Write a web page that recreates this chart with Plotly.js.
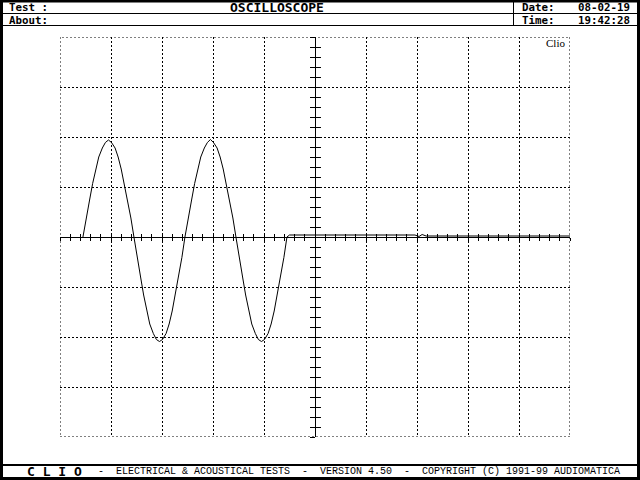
<!DOCTYPE html>
<html><head><meta charset="utf-8">
<script src="https://cdn.plot.ly/plotly-3.0.1.min.js"></script>
<style>html,body{margin:0;padding:0;background:#fff;}#chart{width:640px;height:480px;}</style>
</head><body><div id="chart"></div>
<script>
const waveX = [0.45,0.51,0.58,0.64,0.70,0.76,0.83,0.89,0.95,1.01,1.08,1.14,1.20,1.26,1.33,1.39,1.45,
  1.51,1.58,1.64,1.70,1.76,1.83,1.89,1.95,2.01,2.08,2.14,2.20,2.26,2.33,2.39,2.45,
  2.51,2.58,2.64,2.70,2.76,2.83,2.89,2.95,3.01,3.08,3.14,3.20,3.26,3.33,3.39,3.45,
  3.51,3.58,3.64,3.70,3.76,3.83,3.89,3.95,4.01,4.08,4.14,4.20,4.26,4.33,4.39,4.45,
  4.50,6.96,7.04,7.10,7.18,10.00];
const waveY = [0.00,0.38,0.74,1.07,1.36,1.60,1.78,1.89,1.94,1.89,1.78,1.60,1.36,1.07,0.74,0.38,0.00,
  -0.41,-0.80,-1.16,-1.48,-1.74,-1.93,-2.05,-2.09,-2.05,-1.93,-1.74,-1.48,-1.16,-0.80,-0.41,0.00,
  0.38,0.74,1.07,1.36,1.60,1.78,1.89,1.95,1.89,1.78,1.60,1.36,1.07,0.74,0.38,0.00,
  -0.41,-0.80,-1.16,-1.48,-1.74,-1.93,-2.05,-2.09,-2.05,-1.93,-1.74,-1.48,-1.16,-0.80,-0.41,0.00,
  0.04,0.04,0.01,0.05,0.02,0.02];

const xRange = [0, 10];
const yRange = [-4, 4];

const headerTest = 'Test :';
const headerAbout = 'About:';
const headerTitle = 'OSCILLOSCOPE';
const headerDateLabel = 'Date:';
const headerDateValue = '08-02-19';
const headerTimeLabel = 'Time:';
const headerTimeValue = '19:42:28';
const footerBrand = 'C L I O';
const footerText = '-  ELECTRICAL & ACOUSTICAL TESTS  -  VERSION 4.50  -  COPYRIGHT (C) 1991-99 AUDIOMATICA';
const cornerLabel = 'Clio';

// pixel -> paper helpers (plot area is 60..570 x 37..437)
const L = 60, T = 37, PW = 510, PH = 400;
const px = x => (x - L) / PW;
const py = y => (T + PH - y) / PH;

const monoBold = {family: 'DejaVu Sans Mono', size: 13, color: '#000', weight: 'bold'};
const monoRow = {family: 'DejaVu Sans Mono', size: 10.8, color: '#000', weight: 'bold'};
const monoThin = {family: 'Liberation Mono', size: 10, color: '#000'};

function ann(text, x, y, font, xanchor) {
  return {text: text, xref: 'paper', yref: 'paper', x: px(x), y: py(y),
    xanchor: xanchor || 'left', yanchor: 'middle', showarrow: false, font: font, borderpad: 0};
}
function hline(y, x0, x1, w) {
  return {type: 'line', xref: 'paper', yref: 'paper', x0: px(x0), x1: px(x1), y0: py(y), y1: py(y),
    line: {color: '#000', width: w}};
}
function vline(x, y0, y1, w) {
  return {type: 'line', xref: 'paper', yref: 'paper', x0: px(x), x1: px(x), y0: py(y0), y1: py(y1),
    line: {color: '#000', width: w}};
}

const gridDash = '2px,2px';
const baseAxis = {
  fixedrange: true, anchor: 'free', position: 0.5, zeroline: false,
  showticklabels: false, tickmode: 'linear', tick0: 0, dtick: 1,
  tickwidth: 1, tickcolor: '#000'
};

const layout = {
  width: 640, height: 480, autosize: false,
  margin: {l: 60, r: 70, t: 37, b: 43, pad: 0},
  paper_bgcolor: '#fff', plot_bgcolor: '#fff',
  showlegend: false, hovermode: false,
  xaxis: Object.assign({}, baseAxis, {
    range: xRange, showline: true, linecolor: '#000', linewidth: 1,
    showgrid: true, gridcolor: '#000', gridwidth: 1, griddash: gridDash,
    ticks: 'outside', ticklen: 3,
    minor: {tickmode: 'linear', tick0: 0, dtick: 0.2, ticks: 'outside', ticklen: 3, tickwidth: 1, tickcolor: '#000', showgrid: false}
  }),
  xaxis2: Object.assign({}, baseAxis, {
    range: xRange, overlaying: 'x', showline: false, showgrid: false,
    ticks: 'inside', ticklen: 3,
    minor: {tickmode: 'linear', tick0: 0, dtick: 0.2, ticks: 'inside', ticklen: 3, tickwidth: 1, tickcolor: '#000', showgrid: false}
  }),
  yaxis: Object.assign({}, baseAxis, {
    range: yRange, showline: true, linecolor: '#000', linewidth: 1,
    showgrid: true, gridcolor: '#000', gridwidth: 1, griddash: gridDash,
    ticks: 'outside', ticklen: 5,
    minor: {tickmode: 'linear', tick0: 0, dtick: 0.2, ticks: 'outside', ticklen: 5, tickwidth: 1, tickcolor: '#000', showgrid: false}
  }),
  yaxis2: Object.assign({}, baseAxis, {
    range: yRange, overlaying: 'y', showline: false, showgrid: false,
    ticks: 'inside', ticklen: 5,
    minor: {tickmode: 'linear', tick0: 0, dtick: 0.2, ticks: 'inside', ticklen: 5, tickwidth: 1, tickcolor: '#000', showgrid: false}
  }),
  shapes: [
    {type: 'rect', xref: 'x', yref: 'y', x0: xRange[0], x1: xRange[1], y0: yRange[0], y1: yRange[1],
      line: {color: '#000', width: 1, dash: gridDash}, layer: 'below'},
    {type: 'rect', xref: 'paper', yref: 'paper', x0: px(1.5), x1: px(638.5), y0: py(1), y1: py(478.5),
      line: {color: '#000', width: 3}},
    hline(13.5, 0, 640, 1),
    hline(25.5, 0, 640, 1),
    vline(513.5, 0, 26, 1),
    hline(465, 0, 640, 2)
  ],
  annotations: [
    ann(headerTest, 8, 7.5, monoRow),
    ann(headerAbout, 8, 20.6, monoRow),
    ann(headerTitle, 277, 8, monoBold, 'center'),
    ann(headerDateLabel, 521, 7.5, monoRow),
    ann(headerDateValue, 631, 7.5, monoRow, 'right'),
    ann(headerTimeLabel, 521, 20.6, monoRow),
    ann(headerTimeValue, 631, 20.6, monoRow, 'right'),
    ann(footerBrand, 26, 472, monoBold),
    ann(footerText, 97, 472, monoThin),
    ann(cornerLabel, 555, 43, {family: 'Liberation Serif', size: 11, color: '#000'}, 'center')
  ]
};

const data = [
  {type: 'scatter', mode: 'lines', x: waveX, y: waveY, xaxis: 'x', yaxis: 'y',
    line: {color: '#000', width: 1}, hoverinfo: 'skip'},
  {type: 'scatter', mode: 'lines', x: [], y: [], xaxis: 'x2', yaxis: 'y2', hoverinfo: 'skip'}
];

Plotly.newPlot('chart', data, layout, {staticPlot: true, displayModeBar: false});
</script>
</body></html>
